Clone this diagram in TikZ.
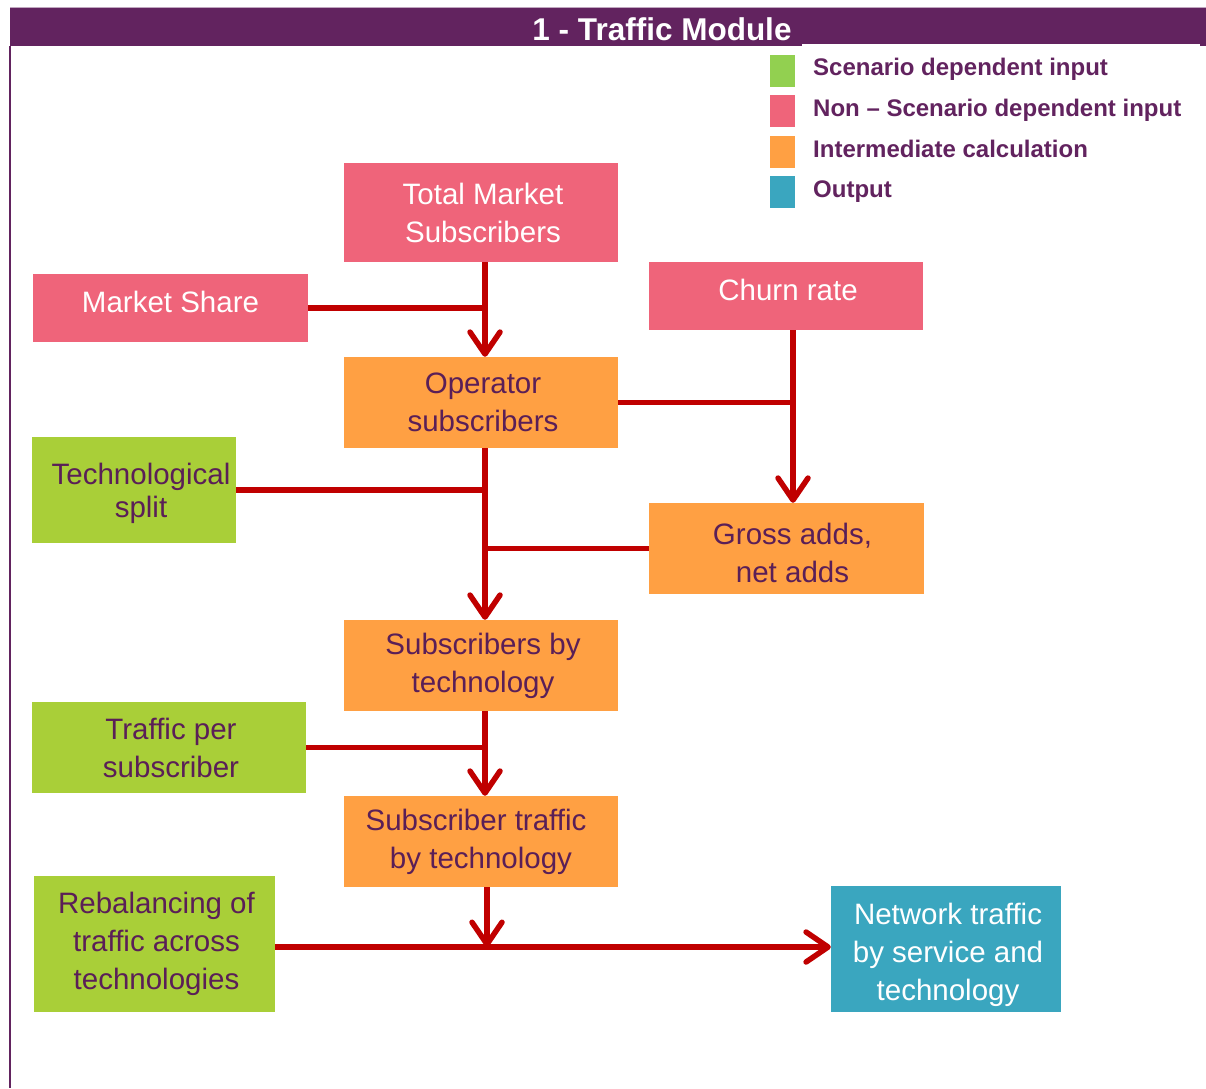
\documentclass[tikz,border=0pt]{standalone}
\usepackage{fontspec}
\setmainfont{Liberation Sans}
\usetikzlibrary{arrows.meta,calc}

\definecolor{hdr}{HTML}{62235F}
\definecolor{inktxt}{HTML}{5A1F57}
\definecolor{pinkc}{HTML}{EF647A}
\definecolor{orangec}{HTML}{FFA043}
\definecolor{greenc}{HTML}{A9CF38}
\definecolor{leggreen}{HTML}{92D050}
\definecolor{tealc}{HTML}{3AA6BF}
\definecolor{flowred}{HTML}{C00000}

\begin{document}
\begin{tikzpicture}[x=1pt,y=-1pt,
  box/.style={inner sep=0pt, align=center, font=\fontsize{29.5}{38}\selectfont},
  fixedin/.style={box, fill=pinkc, text=white},
  calcbox/.style={box, fill=orangec, text=inktxt},
  scenbox/.style={box, fill=greenc, text=inktxt},
  outbox/.style={box, fill=tealc, text=white},
  legsq/.style={inner sep=0pt, minimum width=25pt, minimum height=32pt},
  legtxt/.style={inner sep=0pt, anchor=base west, text=hdr,
    font=\fontsize{24}{28}\selectfont\bfseries},
  flow/.style={draw=flowred, line width=5.5pt},
  arr/.style={flow, -{Straight Barb[length=22pt,width=30pt,round]}},
]
\useasboundingbox (0,0) rectangle (1206,1088);
\fill[white] (0,0) rectangle (1206,1088);

% header band and frame line
\draw[hdr!40, line width=1pt] (10,7.5) -- (1206,7.5);
\fill[hdr] (10,8) rectangle (1206,46);
\fill[white] (802,44) rectangle (1200,46.5);
\draw[hdr, line width=2.5pt] (10,46) -- (10,1088);
\node[anchor=base, text=white, inner sep=0pt,
  font=\fontsize{31.5}{34}\selectfont\bfseries] (title) at (662,40) {1 - Traffic Module};

% legend
\node[legsq, fill=leggreen] (lg1) at (782.5,71) {};
\node[legsq, fill=pinkc] (lg2) at (782.5,111) {};
\node[legsq, fill=orangec] (lg3) at (782.5,152) {};
\node[legsq, fill=tealc] (lg4) at (782.5,192) {};
\node[legtxt] (lt1) at (813,75) {Scenario dependent input};
\node[legtxt] (lt2) at (813,116) {Non – Scenario dependent input};
\node[legtxt] (lt3) at (813,157) {Intermediate calculation};
\node[legtxt] (lt4) at (813,197) {Output};

% boxes
\node[fixedin, minimum width=274pt, minimum height=99pt] (tms) at (481,212.5) {\hspace*{4pt}Total Market\\\hspace*{4pt}Subscribers};
\node[fixedin, minimum width=275pt, minimum height=68pt, text depth=12pt] (ms) at (170.5,308) {Market Share};
\node[fixedin, minimum width=274pt, minimum height=68pt, text depth=12pt] (churn) at (786,296) {\hspace*{4pt}Churn rate};
\node[calcbox, minimum width=274pt, minimum height=91pt] (ops) at (481,402.5) {\hspace*{4pt}Operator\\\hspace*{4pt}subscribers};
\node[scenbox, minimum width=204pt, minimum height=106pt, text height=62pt,
  font=\fontsize{29.5}{33}\selectfont] (tech) at (134,490) {\hspace*{14pt}Technological\\\hspace*{14pt}split};
\node[calcbox, minimum width=275pt, minimum height=91pt, text height=69pt] (gross) at (786.5,548.5) {\hspace*{12pt}Gross adds,\\\hspace*{12pt}net adds};
\node[calcbox, minimum width=274pt, minimum height=91pt] (sbt) at (481,665.5) {\hspace*{4pt}Subscribers by\\\hspace*{4pt}technology};
\node[scenbox, minimum width=274pt, minimum height=91pt] (tps) at (169,747.5) {\hspace*{4pt}Traffic per\\\hspace*{4pt}subscriber};
\node[calcbox, minimum width=274pt, minimum height=91pt] (st) at (481,841.5) {Subscriber traffic\hspace*{10pt}\\by technology};
\node[scenbox, minimum width=241pt, minimum height=136pt] (rebal) at (154.5,944) {\hspace*{4pt}Rebalancing of\\\hspace*{4pt}traffic across\\\hspace*{4pt}technologies};
\node[outbox, minimum width=230pt, minimum height=126pt, text height=109pt] (net) at (946,949) {\hspace*{4pt}Network traffic\\\hspace*{4pt}by service and\\\hspace*{4pt}technology};

% routing guides
\coordinate (spine) at (485,0);
\coordinate (cspine) at (793,0);
\coordinate (bus) at (0,947);
\coordinate (join) at (487,947);

% connectors
\draw[flow] (ms.east) -- (ms.east -| spine);
\draw[arr] (tms.south -| spine) -- (ops.north -| spine);

\draw[flow] (ops.east) -- (ops.east -| cspine);
\draw[arr] (churn.south -| cspine) -- (gross.north -| cspine);

\draw[flow] (tech.east) -- (tech.east -| spine);
\draw[flow] (gross.west) -- (gross.west -| spine);
\draw[arr] (ops.south -| spine) -- (sbt.north -| spine);

\draw[flow] (tps.east) -- (tps.east -| spine);
\draw[arr] (sbt.south -| spine) -- (st.north -| spine);

\draw[arr] (st.south -| join) -- (join);
\draw[arr] (rebal.east |- bus) -- (net.west |- bus);
\end{tikzpicture}
\end{document}
